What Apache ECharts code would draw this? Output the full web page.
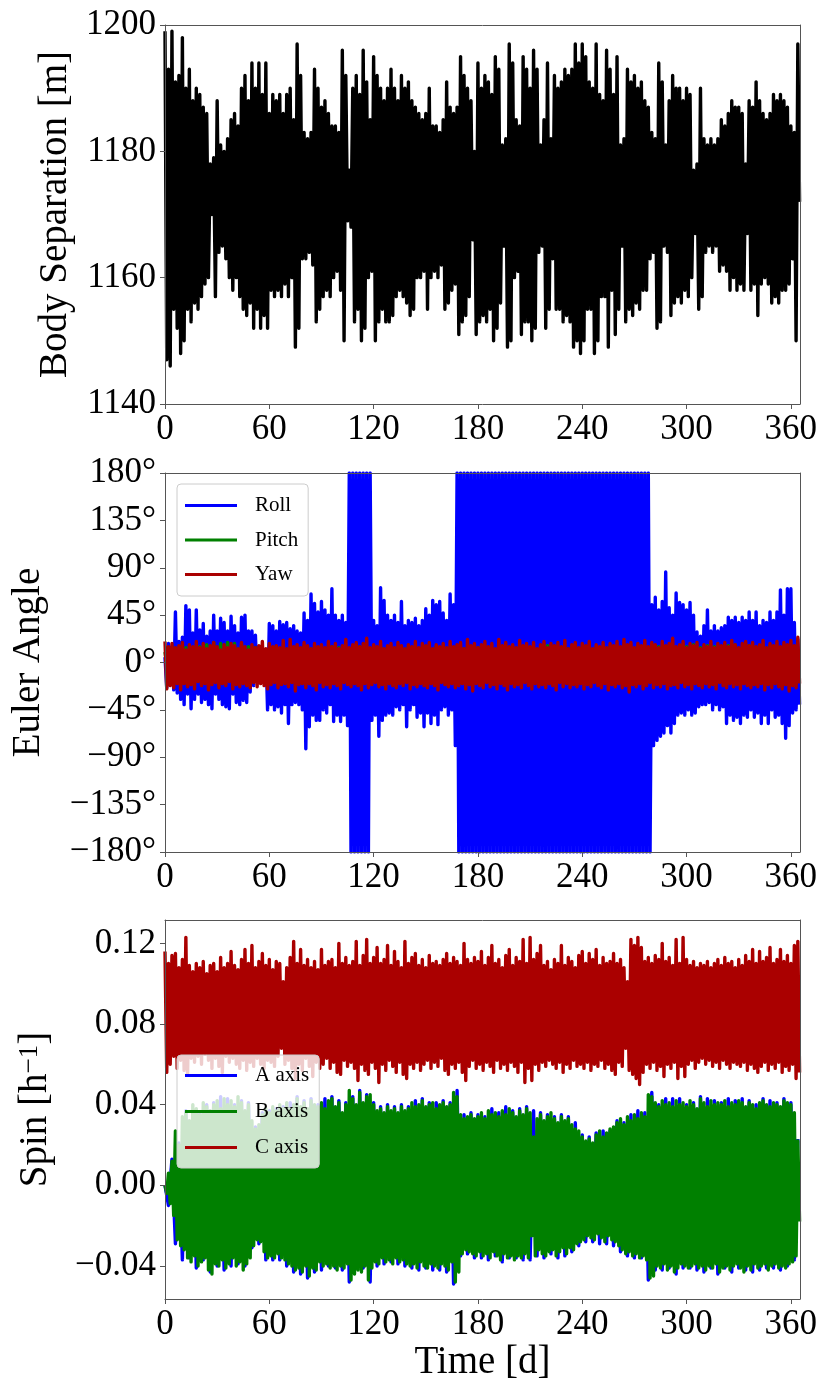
<!DOCTYPE html>
<html><head><meta charset="utf-8">
<script src="https://cdn.jsdelivr.net/npm/echarts@6/dist/echarts.min.js"></script>
<style>html,body{margin:0;padding:0;background:#fff}#c{width:830px;height:1398px}</style>
</head><body><div id="c"></div>
<script>
// time step (days) between consecutive samples
const dailyStep = 1;
const coarseStep = 2;

// tick labels
const timeTicks = [0, 60, 120, 180, 240, 300, 360];
const spinTicks = [-0.04, 0, 0.04, 0.08, 0.12];

// Body separation [m], one sample per day
const sepValues = [
1199,1147,1193,1146,1199,1155,1191,1152,1192,1148,
1198,1150,1190,1155,1193,1153,1188,1156,1190,1155,
1189,1157,1187,1159,1186,1160,1178,1170,1179,1157,
1188,1164,1181,1165,1180,1163,1182,1160,1185,1158,
1186,1160,1184,1157,1190,1155,1192,1154,1188,1156,
1194,1152,1190,1155,1194,1152,1189,1154,1194,1152,
1186,1158,1189,1157,1188,1158,1189,1157,1186,1159,
1189,1157,1190,1160,1185,1149,1197,1152,1192,1163,
1183,1163,1182,1164,1183,1162,1193,1153,1190,1155,
1187,1157,1188,1158,1186,1157,1184,1160,1184,1161,
1183,1158,1196,1150,1192,1169,1177,1168,1190,1153,
1192,1155,1189,1150,1196,1152,1191,1160,1185,1161,
1195,1150,1192,1153,1190,1155,1188,1153,1190,1153,
1193,1154,1190,1157,1188,1158,1192,1157,1190,1156,
1191,1154,1188,1155,1187,1160,1186,1160,1185,1161,
1186,1155,1190,1160,1184,1161,1184,1160,1183,1162,
1185,1155,1191,1156,1187,1158,1186,1159,1187,1151,
1195,1153,1192,1154,1190,1157,1188,1166,1180,1151,
1194,1153,1190,1154,1192,1153,1191,1155,1189,1150,
1195,1152,1193,1156,1181,1165,1182,1149,1197,1150,
1194,1160,1185,1161,1184,1151,1195,1153,1193,1153,
1190,1150,1196,1152,1193,1164,1181,1165,1185,1152,
1194,1155,1182,1163,1192,1155,1190,1155,1191,1153,
1193,1154,1192,1153,1193,1149,1197,1150,1194,1148,
1197,1150,1195,1155,1191,1155,1190,1148,1197,1150,
1189,1157,1188,1157,1196,1149,1193,1158,1189,1151,
1195,1155,1181,1165,1182,1153,1193,1155,1191,1154,
1192,1156,1190,1155,1191,1158,1188,1158,1187,1163,
1183,1164,1182,1152,1194,1153,1191,1165,1181,1164,
1188,1154,1192,1156,1190,1157,1190,1156,1188,1158,
1190,1157,1189,1160,1177,1167,1178,1155,1190,1157,
1182,1164,1181,1165,1182,1164,1181,1165,1182,1161,
1185,1162,1184,1161,1186,1158,1188,1160,1187,1158,
1187,1159,1186,1158,1178,1167,1188,1158,1187,1159,
1191,1154,1188,1159,1186,1160,1185,1159,1186,1156,
1189,1157,1188,1156,1189,1158,1188,1158,1187,1159,
1184,1163,1183,1150,1197,1172
];

// Roll [deg], one sample per day
const rollValues = [
5,-24,18,-20,15,-26,48,-29,20,-35,
24,-40,54,-30,50,-44,28,-35,50,-30,
31,-38,37,-35,25,-40,30,-44,45,-30,
30,-35,42,-40,38,-42,30,-44,44,-30,
35,-38,28,-40,43,-36,45,-38,30,-28,
30,-22,26,-17,15,-15,14,-17,12,-45,
37,-40,35,-45,30,-42,39,-48,36,-40,
38,-58,32,-40,35,-38,30,-40,28,-45,
47,-82,40,-61,65,-50,56,-55,48,-55,
58,-45,50,-48,45,-40,70,-56,45,-50,
40,-56,45,-50,38,-60,180,-180,180,-180,
180,-180,180,-180,180,-180,180,-180,180,-55,
40,-50,35,-70,71,-55,59,-50,45,-48,
40,-50,45,-42,38,-45,58,-40,35,-61,
40,-45,38,-40,42,-52,35,-48,40,-61,
51,-48,45,-58,59,-50,55,-59,58,-45,
47,-42,40,-50,65,-45,55,-79,180,-180,
180,-180,180,-180,180,-180,180,-180,180,-180,
180,-180,180,-180,180,-180,180,-180,180,-180,
180,-180,180,-180,180,-180,180,-180,180,-180,
180,-180,180,-180,180,-180,180,-180,180,-180,
180,-180,180,-180,180,-180,180,-180,180,-180,
180,-180,180,-180,180,-180,180,-180,180,-180,
180,-180,180,-180,180,-180,180,-180,180,-180,
180,-180,180,-180,180,-180,180,-180,180,-180,
180,-180,180,-180,180,-180,180,-180,180,-180,
180,-180,180,-180,180,-180,180,-180,180,-180,
180,-180,180,-180,180,-180,180,-180,180,-180,
55,-79,62,-74,50,-70,58,-67,86,-60,
52,-67,45,-58,66,-50,57,-48,55,-50,
50,-45,57,-50,45,-48,29,-42,25,-40,
35,-40,50,-38,30,-45,35,-40,30,-45,
33,-42,35,-58,43,-50,40,-55,43,-52,
38,-58,43,-50,40,-52,48,-45,40,-52,
48,-48,35,-58,40,-50,38,-58,48,-45,
40,-52,48,-50,69,-58,45,-72,70,-60,
70,-48,38,-45,22,-40
];

// Pitch [deg], one sample every 2 days
const pitchValues = [
10,-12,14,-13,12,-15,14,-12,13,-14,
15,-13,17,-18,19,-16,18,-17,19,-15,
18,-16,17,-14,15,-13,14,-12,13,-14,
12,-13,15,-12,14,-15,13,-12,14,-13,
15,-14,13,-15,14,-12,13,-14,15,-13,
14,-12,13,-15,12,-14,15,-13,14,-12,
13,-14,15,-12,14,-15,13,-12,14,-13,
15,-14,13,-12,14,-15,13,-14,15,-12,
14,-13,12,-15,14,-12,13,-14,15,-13,
14,-12,13,-15,12,-14,15,-13,14,-12,
13,-14,15,-12,14,-15,13,-12,14,-13,
16,-14,13,-12,14,-15,13,-14,15,-12,
14,-13,12,-15,14,-12,13,-14,15,-13,
14,-12,13,-15,12,-14,15,-13,14,-12,
13,-14,15,-12,14,-15,13,-12,14,-13,
15,-14,17,-12,14,-15,16,-14,15,-12,
14,-13,16,-15,17,-12,13,-14,16,-13,
14,-12,15,-15,16,-14,15,-13,14,-12,
13,-14,12
];

// Yaw [deg], one sample per day
const yawValues = [
20,-25,15,-22,18,-24,14,-20,16,-26,
19,-20,12,-23,17,-21,15,-25,20,-18,
14,-22,18,-20,13,-26,16,-21,19,-19,
15,-24,12,-20,17,-22,14,-18,18,-25,
16,-21,13,-23,19,-20,15,-22,12,-24,
17,-19,14,-23,16,-20,20,-22,13,-25,
18,-21,15,-19,16,-24,14,-21,21,-20,
13,-23,22,-19,15,-27,17,-21,14,-20,
19,-24,16,-20,13,-22,18,-26,15,-19,
17,-23,14,-21,20,-24,15,-20,18,-22,
13,-25,16,-19,22,-21,14,-23,17,-20,
19,-22,15,-26,18,-20,23,-24,14,-21,
17,-19,15,-23,20,-21,13,-25,16,-20,
18,-22,14,-24,19,-20,16,-22,13,-19,
17,-25,15,-21,20,-23,14,-20,18,-22,
16,-24,19,-20,13,-22,17,-26,15,-19,
18,-21,14,-23,20,-20,15,-24,17,-22,
19,-20,13,-25,22,-21,16,-27,18,-20,
14,-22,17,-24,20,-19,15,-23,18,-21,
13,-25,22,-20,16,-22,19,-26,15,-20,
17,-23,14,-21,21,-24,16,-19,18,-22,
15,-25,19,-20,13,-23,17,-21,20,-24,
14,-20,18,-22,16,-26,19,-19,15,-23,
21,-20,13,-24,17,-21,19,-23,14,-20,
18,-25,16,-21,20,-23,13,-19,17,-22,
15,-24,19,-20,14,-26,18,-21,16,-23,
20,-20,15,-24,22,-22,17,-28,19,-21,
14,-23,18,-20,16,-25,21,-22,15,-19,
19,-24,17,-21,14,-23,20,-20,16,-25,
18,-22,23,-21,15,-24,17,-19,20,-23,
14,-21,18,-25,16,-20,19,-22,13,-24,
17,-20,15,-23,20,-21,14,-25,18,-19,
16,-22,19,-24,15,-20,21,-23,17,-21,
14,-25,18,-20,20,-22,16,-24,19,-21,
15,-23,17,-20,21,-26,14,-21,18,-24,
16,-20,20,-23,15,-25,19,-21,17,-27,
21,-22,16,-24,24,-20
];

// Spin A axis [1/h], one sample every 2 days
const spinAValues = [
0.000,-0.010,0.013,-0.029,0.021,-0.037,0.037,-0.036,0.033,-0.041,
0.036,-0.037,0.040,-0.043,0.041,-0.040,0.044,-0.042,0.043,-0.040,
0.040,-0.039,0.042,-0.040,0.041,-0.031,0.029,-0.029,0.036,-0.037,
0.037,-0.037,0.038,-0.037,0.039,-0.040,0.041,-0.043,0.044,-0.044,
0.042,-0.046,0.043,-0.043,0.040,-0.042,0.043,-0.040,0.044,-0.041,
0.042,-0.042,0.041,-0.048,0.044,-0.041,0.047,-0.041,0.045,-0.048,
0.041,-0.040,0.039,-0.039,0.040,-0.038,0.039,-0.039,0.040,-0.040,
0.039,-0.041,0.042,-0.042,0.043,-0.041,0.041,-0.042,0.041,-0.042,
0.042,-0.043,0.041,-0.049,0.047,-0.035,0.035,-0.034,0.036,-0.036,
0.035,-0.036,0.034,-0.037,0.038,-0.035,0.036,-0.038,0.039,-0.036,
0.037,-0.036,0.038,-0.037,0.039,-0.037,0.037,-0.035,0.036,-0.036,
0.035,-0.034,0.034,-0.036,0.035,-0.035,0.034,-0.033,0.031,-0.030,
0.025,-0.028,0.024,-0.028,0.026,-0.029,0.027,-0.029,0.027,-0.030,
0.032,-0.033,0.031,-0.035,0.035,-0.036,0.037,-0.036,0.036,-0.047,
0.046,-0.042,0.040,-0.042,0.043,-0.041,0.043,-0.044,0.043,-0.041,
0.040,-0.041,0.041,-0.042,0.044,-0.043,0.043,-0.041,0.042,-0.044,
0.041,-0.041,0.043,-0.043,0.042,-0.041,0.043,-0.042,0.042,-0.043,
0.040,-0.042,0.043,-0.041,0.042,-0.041,0.041,-0.042,0.043,-0.040,
0.041,-0.037,0.023
];

// Spin B axis [1/h], one sample per day
const spinBValues = [
0.000,-0.004,0.006,-0.009,0.012,-0.015,0.027,-0.027,0.020,-0.030,
0.034,-0.032,0.036,-0.036,0.032,-0.038,0.040,-0.035,0.038,-0.040,
0.035,-0.038,0.041,-0.036,0.039,-0.042,0.037,-0.044,0.040,-0.039,
0.042,-0.040,0.038,-0.037,0.043,-0.041,0.040,-0.039,0.042,-0.036,
0.039,-0.040,0.044,-0.038,0.041,-0.042,0.037,-0.039,0.040,-0.036,
0.032,-0.030,0.028,-0.027,0.030,-0.028,0.035,-0.033,0.038,-0.036,
0.036,-0.035,0.039,-0.036,0.037,-0.034,0.040,-0.036,0.038,-0.037,
0.041,-0.039,0.038,-0.040,0.040,-0.042,0.043,-0.041,0.039,-0.043,
0.041,-0.040,0.038,-0.045,0.042,-0.041,0.040,-0.042,0.039,-0.038,
0.041,-0.040,0.038,-0.039,0.042,-0.041,0.043,-0.040,0.039,-0.042,
0.041,-0.040,0.036,-0.041,0.040,-0.039,0.047,-0.047,0.043,-0.044,
0.040,-0.042,0.046,-0.043,0.041,-0.040,0.044,-0.047,0.045,-0.041,
0.040,-0.038,0.037,-0.039,0.038,-0.036,0.036,-0.038,0.039,-0.037,
0.037,-0.039,0.038,-0.036,0.036,-0.038,0.039,-0.037,0.037,-0.039,
0.038,-0.040,0.041,-0.039,0.039,-0.041,0.040,-0.038,0.042,-0.040,
0.039,-0.041,0.040,-0.039,0.041,-0.040,0.038,-0.041,0.040,-0.039,
0.041,-0.040,0.039,-0.042,0.040,-0.038,0.046,-0.048,0.044,-0.043,
0.035,-0.034,0.033,-0.032,0.034,-0.033,0.035,-0.034,0.033,-0.035,
0.034,-0.033,0.036,-0.035,0.033,-0.034,0.037,-0.036,0.035,-0.033,
0.036,-0.035,0.034,-0.037,0.037,-0.034,0.035,-0.036,0.038,-0.035,
0.036,-0.037,0.034,-0.035,0.037,-0.036,0.035,-0.034,0.038,-0.036,
0.036,-0.025,0.024,-0.035,0.033,-0.032,0.035,-0.034,0.032,-0.035,
0.034,-0.033,0.036,-0.032,0.033,-0.035,0.031,-0.033,0.034,-0.031,
0.032,-0.034,0.033,-0.031,0.030,-0.032,0.028,-0.029,0.027,-0.028,
0.024,-0.027,0.022,-0.025,0.023,-0.026,0.021,-0.027,0.025,-0.024,
0.027,-0.026,0.024,-0.028,0.026,-0.025,0.028,-0.027,0.029,-0.028,
0.031,-0.030,0.033,-0.032,0.030,-0.034,0.034,-0.033,0.032,-0.035,
0.035,-0.034,0.033,-0.036,0.036,-0.035,0.034,-0.037,0.045,-0.046,
0.044,-0.045,0.041,-0.040,0.039,-0.041,0.042,-0.039,0.040,-0.042,
0.041,-0.040,0.039,-0.043,0.042,-0.041,0.040,-0.039,0.041,-0.040,
0.039,-0.041,0.042,-0.040,0.040,-0.039,0.038,-0.041,0.043,-0.040,
0.041,-0.042,0.039,-0.040,0.042,-0.041,0.040,-0.039,0.041,-0.043,
0.040,-0.041,0.042,-0.040,0.039,-0.042,0.041,-0.040,0.040,-0.039,
0.042,-0.041,0.041,-0.043,0.039,-0.040,0.041,-0.042,0.040,-0.039,
0.038,-0.041,0.041,-0.040,0.042,-0.039,0.040,-0.042,0.039,-0.040,
0.041,-0.039,0.040,-0.041,0.039,-0.040,0.042,-0.041,0.041,-0.039,
0.040,-0.038,0.036,-0.035,0.022,-0.018
];

// Spin C axis [1/h], one sample per day
const spinCValues = [
0.116,0.056,0.110,0.060,0.114,0.064,0.115,0.058,0.108,0.062,
0.112,0.057,0.123,0.055,0.109,0.063,0.106,0.061,0.110,0.064,
0.108,0.060,0.111,0.065,0.105,0.062,0.109,0.058,0.110,0.063,
0.106,0.059,0.113,0.056,0.108,0.064,0.110,0.061,0.116,0.063,
0.109,0.060,0.107,0.058,0.112,0.062,0.117,0.057,0.110,0.061,
0.119,0.059,0.108,0.063,0.111,0.060,0.115,0.058,0.109,0.062,
0.112,0.061,0.107,0.059,0.111,0.064,0.110,0.068,0.101,0.060,
0.108,0.062,0.113,0.058,0.121,0.053,0.110,0.060,0.117,0.057,
0.109,0.063,0.112,0.059,0.108,0.054,0.111,0.061,0.107,0.058,
0.117,0.060,0.109,0.063,0.111,0.058,0.112,0.061,0.108,0.056,
0.120,0.055,0.110,0.062,0.113,0.059,0.109,0.061,0.111,0.058,
0.121,0.052,0.109,0.060,0.114,0.057,0.122,0.055,0.110,0.061,
0.113,0.058,0.118,0.051,0.110,0.060,0.112,0.057,0.119,0.062,
0.109,0.059,0.116,0.056,0.111,0.061,0.108,0.055,0.121,0.053,
0.110,0.060,0.113,0.058,0.115,0.061,0.109,0.057,0.112,0.060,
0.108,0.062,0.114,0.058,0.110,0.061,0.111,0.059,0.109,0.063,
0.112,0.057,0.115,0.055,0.110,0.060,0.113,0.058,0.111,0.061,
0.109,0.056,0.120,0.052,0.112,0.059,0.110,0.062,0.113,0.058,
0.111,0.060,0.116,0.057,0.109,0.061,0.113,0.059,0.119,0.056,
0.110,0.062,0.112,0.058,0.108,0.060,0.114,0.057,0.117,0.061,
0.109,0.059,0.113,0.056,0.111,0.061,0.122,0.051,0.110,0.058,
0.123,0.052,0.112,0.060,0.115,0.057,0.119,0.061,0.109,0.059,
0.111,0.062,0.107,0.060,0.112,0.058,0.110,0.061,0.119,0.056,
0.109,0.060,0.113,0.058,0.111,0.062,0.108,0.059,0.114,0.060,
0.116,0.058,0.110,0.061,0.115,0.057,0.112,0.060,0.117,0.059,
0.109,0.062,0.113,0.058,0.110,0.060,0.111,0.057,0.115,0.055,
0.110,0.061,0.112,0.059,0.108,0.068,0.101,0.057,0.122,0.055,
0.119,0.053,0.123,0.050,0.118,0.056,0.111,0.060,0.113,0.058,
0.110,0.061,0.114,0.057,0.112,0.059,0.120,0.054,0.111,0.060,
0.113,0.058,0.109,0.061,0.122,0.053,0.110,0.059,0.123,0.054,
0.112,0.060,0.109,0.062,0.111,0.058,0.108,0.061,0.110,0.063,
0.109,0.060,0.111,0.062,0.108,0.059,0.110,0.061,0.112,0.058,
0.109,0.062,0.113,0.060,0.110,0.058,0.111,0.061,0.108,0.060,
0.112,0.059,0.109,0.061,0.114,0.057,0.111,0.060,0.117,0.058,
0.110,0.056,0.116,0.059,0.111,0.061,0.113,0.057,0.118,0.060,
0.110,0.058,0.112,0.061,0.117,0.056,0.111,0.059,0.114,0.057,
0.110,0.060,0.119,0.053,0.121,0.056
];

const FONT = '"Liberation Serif", "DejaVu Serif", serif';
const AX = '#555';
const gridTops = [25, 473, 920];
const gridH = 379;

function toXY(values, step) { return values.map((v, i) => [i * step, v]); }
function minus(s) { return s.replace('-', '\u2212'); }

const labelStyle = { fontFamily: FONT, fontSize: 35, color: '#000' };
const nameStyle = { fontFamily: FONT, fontSize: 39, color: '#000' };

const xAxis = [], yAxis = [];
gridTops.forEach((t, i) => {
  const bottom = {
    gridIndex: i, type: 'value', min: 0, max: 365.25, position: 'bottom', z: 5,
    axisLine: { show: true, onZero: false, lineStyle: { color: AX, width: 1 } },
    axisTick: { show: true, length: 5, customValues: timeTicks, lineStyle: { color: AX } },
    axisLabel: Object.assign({ customValues: timeTicks, margin: 8 }, labelStyle),
    splitLine: { show: false }
  };
  if (i === 2) {
    bottom.name = 'Time [d]';
    bottom.nameLocation = 'middle';
    bottom.nameGap = 44;
    bottom.nameTextStyle = nameStyle;
  }
  xAxis.push(bottom);
  xAxis.push({
    gridIndex: i, type: 'value', min: 0, max: 365.25, position: 'top', z: 5,
    axisLine: { show: true, onZero: false, lineStyle: { color: AX, width: 1 } },
    axisTick: { show: false }, axisLabel: { show: false }, splitLine: { show: false }
  });
});

const yCfg = [
  { min: 1140, max: 1200, interval: 20, name: 'Body Separation [m]', nameGap: 84,
    fmt: v => String(v) },
  { min: -180, max: 180, interval: 45, name: 'Euler Angle', nameGap: 117,
    fmt: v => minus(String(v)) + '\u00b0' },
  { min: -0.0564, max: 0.1316, custom: spinTicks, name: 'Spin [h{sup|\u22121}]', nameGap: 110,
    fmt: v => minus(v.toFixed(2)) }
];
yCfg.forEach((c, i) => {
  const left = {
    gridIndex: i, type: 'value', min: c.min, max: c.max, position: 'left', z: 5,
    axisLine: { show: true, onZero: false, lineStyle: { color: AX, width: 1 } },
    axisTick: { show: true, length: 5, lineStyle: { color: AX } },
    axisLabel: Object.assign({ margin: 9, formatter: c.fmt, showMinLabel: true, showMaxLabel: true }, labelStyle),
    splitLine: { show: false },
    name: c.name, nameLocation: 'middle', nameRotate: 90, nameGap: c.nameGap,
    nameTextStyle: Object.assign({
      rich: { sup: { fontFamily: FONT, fontSize: 27, color: '#000', verticalAlign: 'top', lineHeight: 27 } }
    }, nameStyle)
  };
  if (c.interval) left.interval = c.interval;
  if (c.custom) { left.axisTick.customValues = c.custom; left.axisLabel.customValues = c.custom; }
  yAxis.push(left);
  yAxis.push({
    gridIndex: i, type: 'value', min: c.min, max: c.max, position: 'right', z: 5,
    axisLine: { show: true, onZero: false, lineStyle: { color: AX, width: 1 } },
    axisTick: { show: false }, axisLabel: { show: false }, splitLine: { show: false }
  });
});

function line(name, values, step, color, panel, width) {
  return {
    name, type: 'line', data: toXY(values, step), xAxisIndex: panel * 2, yAxisIndex: panel * 2,
    symbol: 'none', showSymbol: false, color, clip: true,
    lineStyle: { width: width || 3.4, color, join: 'round' }, emphasis: { disabled: true }
  };
}

const legendBase = {
  orient: 'vertical', left: 177, itemWidth: 52, itemHeight: 3, icon: 'rect', selectedMode: false,
  textStyle: { fontFamily: FONT, fontSize: 21, lineHeight: 20, color: '#000', padding: [0, 0, 0, 13] },
  backgroundColor: 'rgba(255,255,255,0.8)', borderColor: '#cccccc', borderWidth: 1, borderRadius: 4
};

const option = {
  animation: false,
  grid: gridTops.map(t => ({ left: 165, width: 635, top: t, height: gridH })),
  xAxis, yAxis,
  legend: [
    Object.assign({}, legendBase, { data: ['Roll', 'Pitch', 'Yaw'], top: 484, padding: [11, 10, 11, 8], itemGap: 13.5 }),
    Object.assign({}, legendBase, { data: ['A axis', 'B axis', 'C axis'], top: 1055, padding: [10, 10, 10, 8], itemGap: 15 })
  ],
  series: [
    line('Separation', sepValues, dailyStep, '#000000', 0),
    line('Roll', rollValues, dailyStep, '#0000ff', 1),
    line('Pitch', pitchValues, coarseStep, '#008000', 1),
    line('Yaw', yawValues, dailyStep, '#aa0000', 1),
    line('A axis', spinAValues, coarseStep, '#0000ff', 2),
    line('B axis', spinBValues, dailyStep, '#008000', 2),
    line('C axis', spinCValues, dailyStep, '#aa0000', 2)
  ]
};

const chart = echarts.init(document.getElementById('c'), null, { renderer: 'canvas' });
chart.setOption(option);
</script>
</body></html>
